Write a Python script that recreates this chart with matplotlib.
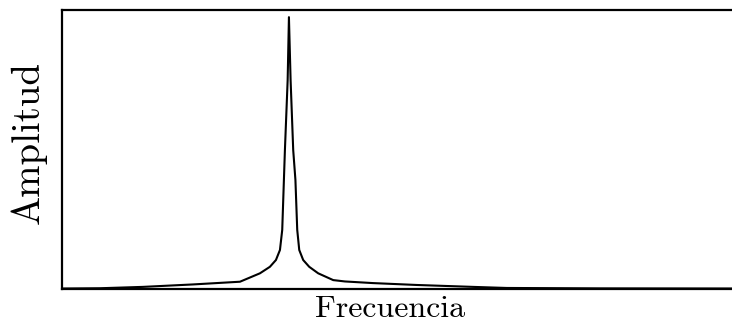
import matplotlib.pyplot as plt
import numpy as np

# resonance curve, sampled by hand (frequency in arbitrary units, amplitude normalised)
frecuencia = [0.000, 0.567, 1.209, 1.955, 2.657, 2.955, 3.104, 3.194, 3.254, 3.288,
              3.313, 3.328, 3.369, 3.388, 3.413, 3.452, 3.485, 3.512, 3.542, 3.601,
              3.691, 3.825, 4.049, 4.224, 4.642, 5.299, 6.134, 6.642, 8.030, 10.12]
amplitud = [0.000, 0.001, 0.006, 0.015, 0.025, 0.056, 0.080, 0.105, 0.142, 0.216,
            0.400, 0.510, 0.768, 1.000, 0.768, 0.510, 0.400, 0.216, 0.142, 0.105,
            0.080, 0.056, 0.031, 0.026, 0.020, 0.013, 0.006, 0.002, 0.0005, 0.000]

plt.rcParams['font.family'] = 'cmr10'
plt.rcParams['axes.formatter.use_mathtext'] = True

fig = plt.figure(figsize=(7.32, 3.26), dpi=100)
ax = fig.add_axes([0.0847, 0.115, 0.926, 0.854])

ax.plot(frecuencia, amplitud, color='black', lw=1.5, solid_joinstyle='round')

ax.set_xlim(0, 10.12)
ax.set_ylim(0, 1.026)
ax.set_xticks([])
ax.set_yticks([])
for s in ax.spines.values():
    s.set_linewidth(1.6)
# the frame runs off the right edge
ax.spines['right'].set_visible(False)

ax.set_xlabel('Frecuencia', fontsize=23)
ax.set_ylabel('Amplitud', fontsize=28)
ax.xaxis.set_label_coords(0.484, -0.027)
ax.xaxis.label.set_va('top')
ax.yaxis.set_label_coords(-0.049, 0.526)
ax.yaxis.label.set_va('center')

fig.savefig('out.png', dpi=100)
